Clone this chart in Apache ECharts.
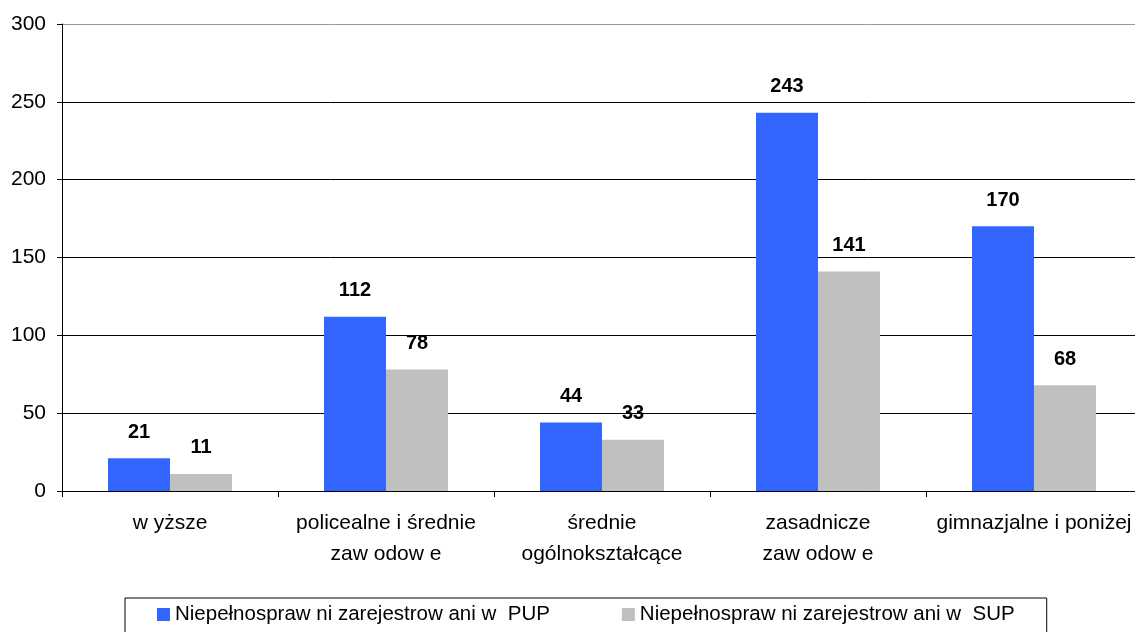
<!DOCTYPE html>
<html><head><meta charset="utf-8">
<script src="https://cdn.jsdelivr.net/npm/echarts@6/dist/echarts.min.js"></script>
<style>html,body{margin:0;padding:0;background:#fff}#c{width:1135px;height:632px}</style>
</head><body><div id="c"></div>
<script>
const categories = ['w yższe', 'policealne i średnie\nzaw odow e', 'średnie\nogólnokształcące', 'zasadnicze\nzaw odow e', 'gimnazjalne i poniżej'];
const seriesNames = ['Niepełnospraw ni zarejestrow ani w  PUP', 'Niepełnospraw ni zarejestrow ani w  SUP'];
const pupValues = [21, 112, 44, 243, 170];
const supValues = [11, 78, 33, 141, 68];
const yTicks = { min: 0, max: 300, interval: 50 };

const chart = echarts.init(document.getElementById('c'), null, {renderer: 'canvas'});
const font = 'Liberation Sans, Arial, sans-serif';
const labelStyle = { show: true, position: 'top', distance: 16, fontFamily: font, fontSize: 20, fontWeight: 'bold', color: '#000' };
chart.setOption({
  animation: false,
  textStyle: { fontFamily: font },
  grid: { left: 62, top: 24, bottom: 141, width: 1080, containLabel: false, outerBoundsMode: 'none' },
  legend: {
    left: 125, top: 598,
    padding: [6, 32, 12, 32],
    borderColor: '#000', borderWidth: 1,
    itemWidth: 13, itemHeight: 13, itemGap: 72,
    icon: 'rect',
    textStyle: { fontFamily: font, fontSize: 20.5, color: '#000' },
    data: seriesNames
  },
  xAxis: {
    type: 'category', data: categories,
    axisLine: { lineStyle: { color: '#000', width: 1 } },
    axisTick: { show: true, length: 6, lineStyle: { color: '#000' } },
    axisLabel: { interval: 0, margin: 17, fontFamily: font, fontSize: 21, color: '#000', lineHeight: 31 }
  },
  yAxis: {
    type: 'value', min: yTicks.min, max: yTicks.max, interval: yTicks.interval,
    axisLine: { show: true, lineStyle: { color: '#000' } },
    axisTick: { show: true, length: 5, lineStyle: { color: '#000' } },
    axisLabel: { margin: 16, fontFamily: font, fontSize: 21, color: '#000' },
    splitLine: { show: true, lineStyle: { color: ['#000', '#000', '#000', '#000', '#000', '#000', '#999'], width: 1 } }
  },
  series: [
    { name: seriesNames[0], type: 'bar', data: pupValues, barWidth: 62, barGap: '0%', itemStyle: { color: '#3366FF' }, label: labelStyle },
    { name: seriesNames[1], type: 'bar', data: supValues, barWidth: 62, barGap: '0%', itemStyle: { color: '#C0C0C0' }, label: labelStyle }
  ]
});
</script></body></html>
